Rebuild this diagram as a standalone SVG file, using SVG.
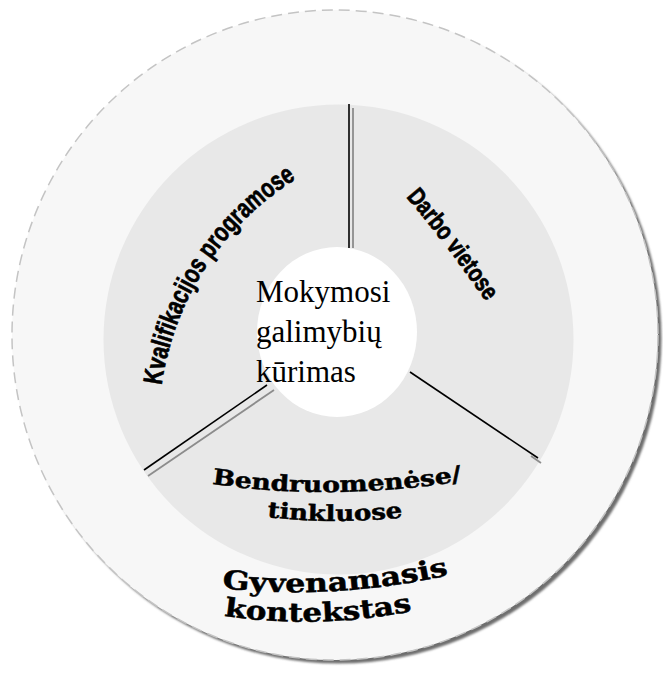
<svg xmlns="http://www.w3.org/2000/svg" width="663" height="673" viewBox="0 0 663 673">
<defs>
<style>
.ring-outer{fill:#f7f7f7;stroke:#c4c4c4;stroke-width:1.5;stroke-dasharray:11 6}
.ring-shadow{fill:#6e6e6e}
.ring-mid{fill:#e8e8e8}
.core{fill:#ffffff}
.div-main{stroke:#000000;stroke-width:1.6;fill:none}
.div-shade{stroke:#8c8c8c;stroke-width:1.8;fill:none}
.sans{font-family:"Liberation Sans",Arial,sans-serif;font-weight:bold;fill:#000000;stroke:#000000;stroke-width:0.7}
.deco{font-family:"DejaVu Serif",serif;font-weight:bold;fill:#000000;stroke:#000000;stroke-width:0.5}
.center-text{font-family:"Liberation Serif","Times New Roman",serif;font-size:31px;fill:#000000}
</style>
<filter id="blur" x="-5%" y="-5%" width="110%" height="110%">
<feGaussianBlur stdDeviation="1.2"/>
</filter>
<path id="p-kval" d="M161.7,385.3 A289,289 0 0 1 397.8,140.4"/>
<path id="p-darbo" d="M406,197 Q450,248 493,312"/>
<path id="p-bend" d="M212,484 Q338,502 468,480"/>
<path id="p-tink" d="M267,517 Q335,525 406,517"/>
<path id="p-gyv" d="M222,588 Q335,601 454,574"/>
<path id="p-kont" d="M224,616 Q322,630 417,610"/>
</defs>

<g id="gyvenamasis-kontekstas">
<ellipse class="ring-shadow" cx="338.5" cy="338.5" rx="323" ry="325" filter="url(#blur)"/>
<ellipse class="ring-outer" cx="335" cy="335" rx="323" ry="325"/>
<text class="deco" font-size="26"><textPath href="#p-gyv" textLength="228" lengthAdjust="spacingAndGlyphs">Gyvenamasis</textPath></text>
<text class="deco" font-size="26"><textPath href="#p-kont" textLength="189" lengthAdjust="spacingAndGlyphs">kontekstas</textPath></text>
</g>

<g id="mokymosi-ring">
<circle class="ring-mid" cx="338.5" cy="339.5" r="235"/>
</g>

<g id="connectors">
<line class="div-shade" x1="353" y1="108" x2="353" y2="248"/>
<line class="div-main" x1="349" y1="104" x2="349" y2="248"/>
<line class="div-shade" x1="274" y1="390" x2="148" y2="476"/>
<line class="div-main" x1="267" y1="385" x2="144" y2="470"/>
<line class="div-shade" x1="531" y1="456" x2="541" y2="463"/>
<line class="div-main" x1="410" y1="372" x2="538" y2="458"/>
</g>

<g id="kvalifikacijos-programose">
<text class="sans" font-size="27"><textPath href="#p-kval" textLength="254" lengthAdjust="spacingAndGlyphs">Kvalifikacijos programose</textPath></text>
</g>

<g id="darbo-vietose">
<text class="sans" font-size="25"><textPath href="#p-darbo" textLength="132" lengthAdjust="spacingAndGlyphs">Darbo vietose</textPath></text>
</g>

<g id="bendruomenese-tinkluose">
<text class="deco" font-size="22"><textPath href="#p-bend" textLength="251" lengthAdjust="spacingAndGlyphs">Bendruomenėse/</textPath></text>
<text class="deco" font-size="22"><textPath href="#p-tink" textLength="136" lengthAdjust="spacingAndGlyphs">tinkluose</textPath></text>
</g>

<g id="mokymosi-galimybiu-kurimas">
<ellipse class="core" cx="337" cy="332" rx="80" ry="85"/>
<text class="center-text" x="256" y="302">Mokymosi</text>
<text class="center-text" x="256" y="342">galimybių</text>
<text class="center-text" x="256" y="382">kūrimas</text>
</g>
</svg>
